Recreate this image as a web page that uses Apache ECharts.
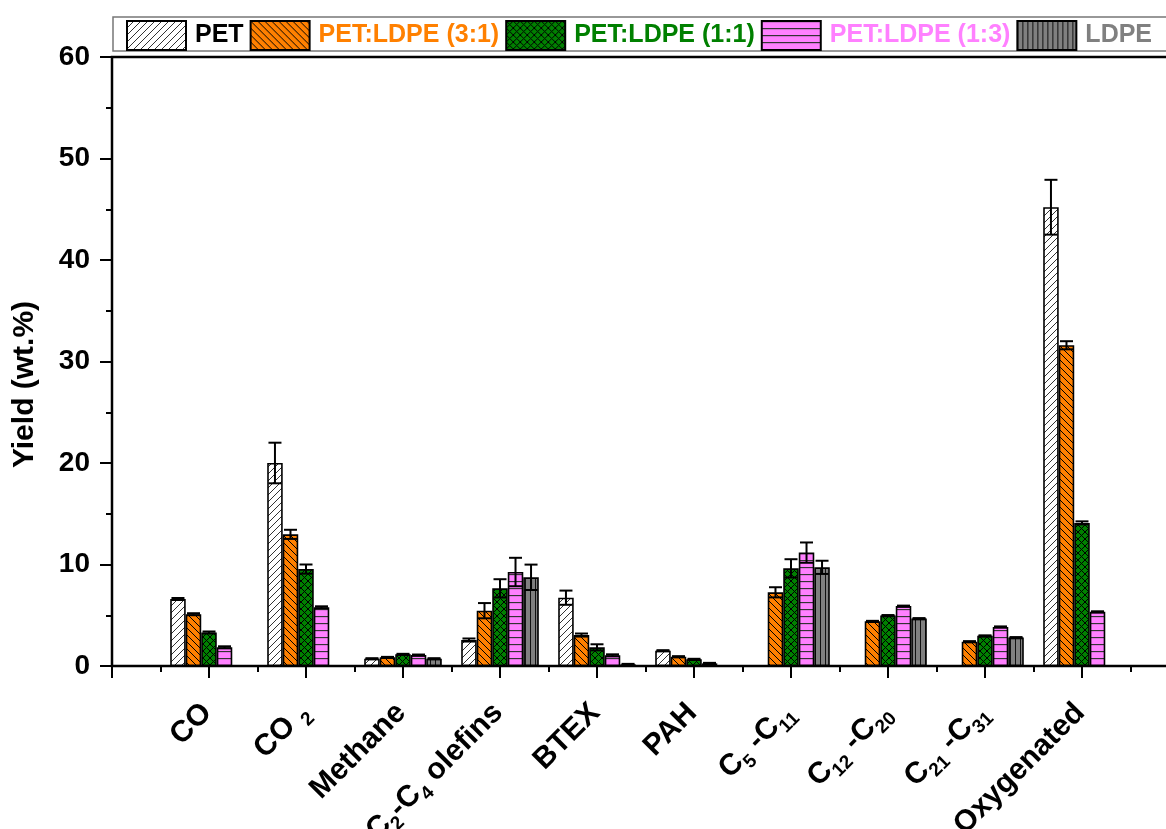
<!DOCTYPE html>
<html>
<head>
<meta charset="utf-8">
<script src="https://cdn.jsdelivr.net/npm/echarts@6/dist/echarts.min.js"></script>
<style>
html,body{margin:0;padding:0;background:#fff;overflow:hidden;}
#chart{width:1166px;height:829px;}
</style>
</head>
<body>
<div id="chart"></div>
<script>
// ---- data ----
const categories = ['CO','CO2','Methane','C2-C4 olefins','BTEX','PAH','C5-C11','C12-C20','C21-C31','Oxygenated'];
const categoryLabels = ['{n|CO}','{n|CO }{s|2}','{n|Methane}','{n|C}{s|2}{n|-C}{s|4}{n| olefins}','{n|BTEX}','{n|PAH}','{n|C}{s|5}{n| -C}{s|11}','{n|C}{s|12}{n| -C}{s|20}','{n|C}{s|21}{n| -C}{s|31}','{n|Oxygenated}'];
const seriesNames = ['PET','PET:LDPE (3:1)','PET:LDPE (1:1)','PET:LDPE (1:3)','LDPE'];
const textColors = ['#000000','#FF8000','#008000','#FF80FF','#808080'];

const petValues    = [6.6, 20.0, 0.72, 2.56, 6.73, 1.51, '-', '-', '-', 45.2];
const pet31Values  = [5.1, 12.97, 0.85, 5.45, 3.05, 0.92, 7.26, 4.4, 2.4, 31.6];
const pet11Values  = [3.3, 9.55, 1.15, 7.65, 1.84, 0.66, 9.62, 4.97, 2.97, 14.1];
const pet13Values  = [1.84, 5.78, 1.08, 9.26, 1.05, 0.26, 11.17, 5.9, 3.85, 5.34];
const ldpeValues   = ['-', '-', 0.72, 8.74, 0.16, '-', 9.72, 4.67, 2.8, '-'];

const petErr   = [0.1, 2.0, 0.05, 0.15, 0.7, 0.05, '-', '-', '-', 2.7];
const pet31Err = [0.1, 0.45, 0.05, 0.75, 0.15, 0.05, 0.5, 0.05, 0.05, 0.4];
const pet11Err = [0.1, 0.45, 0.05, 0.9, 0.3, 0.05, 0.9, 0.05, 0.05, 0.15];
const pet13Err = [0.1, 0.1, 0.05, 1.4, 0.1, 0.05, 1.0, 0.05, 0.05, 0.05];
const ldpeErr  = ['-', '-', 0.05, 1.25, 0.05, '-', 0.65, 0.05, 0.05, '-'];

const yTicks = {min: 0, max: 60, interval: 10};

// ---- patterns ----
function tile(w, h, bg, draw) {
  const c = document.createElement('canvas');
  c.width = w; c.height = h;
  const ctx = c.getContext('2d');
  ctx.fillStyle = bg; ctx.fillRect(0, 0, w, h);
  ctx.strokeStyle = '#000'; ctx.lineWidth = 1;
  draw(ctx, w, h);
  return {image: c, repeat: 'repeat'};
}
function line(ctx, x1, y1, x2, y2) { ctx.beginPath(); ctx.moveTo(x1, y1); ctx.lineTo(x2, y2); ctx.stroke(); }
const patterns = [
  tile(7, 7, '#ffffff', (ctx, w, h) => { ctx.strokeStyle = '#333'; line(ctx, -1, h + 1, w + 1, -1); line(ctx, -1, 1, 1, -1); line(ctx, w - 1, h + 1, w + 1, h - 1); }),
  tile(7, 7, '#FF8000', (ctx, w, h) => { line(ctx, -1, -1, w + 1, h + 1); line(ctx, w - 1, -1, w + 1, 1); line(ctx, -1, h - 1, 1, h + 1); }),
  tile(7, 7, '#008000', (ctx, w, h) => { line(ctx, -1, -1, w + 1, h + 1); line(ctx, -1, h + 1, w + 1, -1); }),
  tile(7, 7, '#FF80FF', (ctx, w, h) => { ctx.strokeStyle = '#333'; ctx.lineWidth = 1.3; line(ctx, 0, 0.5, w, 0.5); }),
  tile(5, 5, '#808080', (ctx, w, h) => { ctx.strokeStyle = '#111'; line(ctx, 0.5, 0, 0.5, h); })
];

const valueSets = [petValues, pet31Values, pet11Values, pet13Values, ldpeValues];
const errSets = [petErr, pet31Err, pet11Err, pet13Err, ldpeErr];

const font = "'Liberation Sans', Arial, sans-serif";
const chart = echarts.init(document.getElementById('chart'), null, {renderer: 'canvas', width: 1166, height: 829});

const series = [];
valueSets.forEach((vals, k) => {
  series.push({
    name: seriesNames[k],
    type: 'bar',
    xAxisIndex: 0,
    barWidth: '16%',
    barGap: '0%',
    data: ['-'].concat(vals, ['-']),
    itemStyle: {color: patterns[k], borderColor: '#000', borderWidth: 1.6},
    z: 2
  });
});
errSets.forEach((errs, k) => {
  const data = [];
  errs.forEach((e, i) => {
    if (e !== '-' && valueSets[k][i] !== '-') data.push([i + 1, valueSets[k][i], e]);
  });
  series.push({
    name: 'err' + k,
    type: 'custom',
    xAxisIndex: 0,
    z: 5,
    silent: true,
    encode: {x: 0, y: 1},
    data: data,
    renderItem: function (params, api) {
      const xi = api.value(0), v = api.value(1), e = api.value(2);
      const bw = api.size([1, 0])[0] * 0.16;
      const x = api.coord([xi, v])[0] + (k - 2) * bw;
      const yt = api.coord([xi, v + e])[1];
      const yb = api.coord([xi, v - e])[1];
      const cw = 6.5;
      const st = {stroke: '#000', lineWidth: 2};
      return {type: 'group', children: [
        {type: 'line', shape: {x1: x, y1: yt, x2: x, y2: yb}, style: st},
        {type: 'line', shape: {x1: x - cw, y1: yt, x2: x + cw, y2: yt}, style: st},
        {type: 'line', shape: {x1: x - cw, y1: yb, x2: x + cw, y2: yb}, style: st}
      ]};
    }
  });
});

const option = {
  animation: false,
  backgroundColor: '#fff',
  textStyle: {fontFamily: font},
  graphic: [{
    type: 'rect', z: -1,
    shape: {x: 113, y: 17, width: 1080, height: 34},
    style: {fill: 'none', stroke: '#777', lineWidth: 1.5}
  }],
  legend: {
    left: 126, top: 20,
    itemWidth: 59, itemHeight: 29, itemGap: 6,
    icon: 'rect',
    padding: 0,
    data: seriesNames.map((n, k) => ({name: n, textStyle: {color: textColors[k]}})),
    textStyle: {fontSize: 25, fontWeight: 'bold', fontFamily: font, padding: [0, 0, 0, 4]}
  },
  grid: {left: 112, top: 57, width: 1067, height: 609, containLabel: false, outerBoundsMode: 'none',
         show: true, borderColor: '#000', borderWidth: 2.5, backgroundColor: 'transparent'},
  xAxis: [{
    type: 'category',
    data: [''].concat(categories, ['']),
    boundaryGap: false,
    position: 'bottom',
    axisLine: {lineStyle: {color: '#000', width: 2}},
    axisTick: {show: false},
    splitLine: {show: false},
    axisLabel: {
      interval: 0, rotate: 45, margin: 44,
      formatter: function (value, idx) { return idx >= 1 && idx <= categories.length ? categoryLabels[idx - 1] : ''; },
      rich: {
        n: {fontSize: 30, fontWeight: 'bold', fontFamily: font, color: '#000', lineHeight: 35, verticalAlign: 'top'},
        s: {fontSize: 19, fontWeight: 'bold', fontFamily: font, color: '#000', lineHeight: 19, verticalAlign: 'bottom'}
      }
    }
  }, {
    type: 'value', min: 0, max: 11, interval: 1,
    position: 'bottom',
    axisLine: {show: false},
    axisLabel: {show: false},
    splitLine: {show: false},
    axisTick: {show: true, length: 12, lineStyle: {color: '#000', width: 2}},
    minorTick: {show: true, splitNumber: 2, length: 6, lineStyle: {color: '#000', width: 2}}
  }],
  yAxis: {
    type: 'value', min: yTicks.min, max: yTicks.max, interval: yTicks.interval,
    name: 'Yield (wt.%)', nameLocation: 'middle', nameGap: 72, nameRotate: 90,
    nameTextStyle: {fontSize: 30, fontWeight: 'bold', fontFamily: font, color: '#000', padding: [0, 46, 0, 0]},
    axisLine: {show: true, lineStyle: {color: '#000', width: 2}},
    axisTick: {show: true, length: 12, lineStyle: {color: '#000', width: 2}},
    minorTick: {show: true, splitNumber: 2, length: 6, lineStyle: {color: '#000', width: 2}},
    splitLine: {show: false},
    axisLabel: {fontSize: 28, fontWeight: 'bold', fontFamily: font, color: '#000', margin: 22}
  },
  series: series
};
chart.setOption(option);
</script>
</body>
</html>
